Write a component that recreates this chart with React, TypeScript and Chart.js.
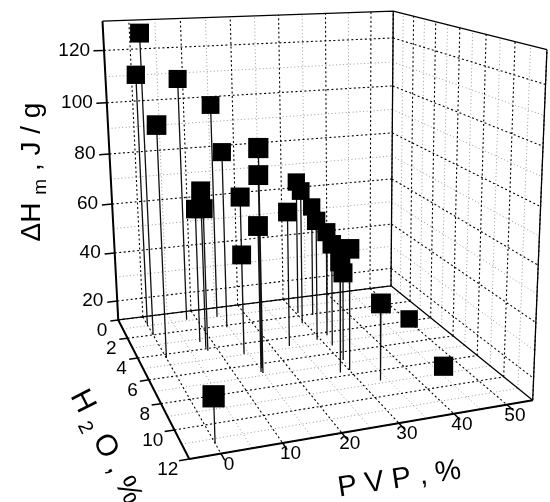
import React, { useEffect, useRef } from "react";
import { Chart, registerables } from "chart.js";

Chart.register(...registerables);

const W = 550;
const H = 502;
const FONT = '"Liberation Sans", Arial, sans-serif';

// ---- axis ranges and ticks ----
const pvpRange = [-5, 55];
const h2oRange = [0, 12];
const dHRange = [12, 131];
const pvpTicks = [0, 10, 20, 30, 40, 50];
const h2oTicks = [0, 2, 4, 6, 8, 10, 12];
const dHTicks = [20, 40, 60, 80, 100, 120];
const pvpMinor = [5, 15, 25, 35, 45];
const h2oMinor = [1, 3, 5, 7, 9, 11];
const dHMinor = [30, 50, 70, 90, 110];

// ---- data: PVP (%), H2O (%), ΔHm (J/g) ----
const pvp = [0, 0, 8, 0, 14.2, 14.6, 14.9, 15.4, 8.1, 7.7, 8.1, 14.3, 14.7, 14.1, 23.3, 30.4, 29.4, 32.9, 29.3, 31.9, 31.1, 30.1, 28.1, 30.6, 33.6, 48.8, 45.5, 0];
const h2o = [2, 0.9, 0.9, 4.35, 1, 2.2, 6.8, 6.4, 3.9, 3.3, 4.2, 4.8, 6.7, 4.95, 4.8, 1.7, 2.8, 2.1, 4.6, 4.3, 5.3, 7.6, 7.7, 6.7, 8.8, 4.6, 9, 11.3];
const dH = [128.5, 111.6, 109.2, 99.2, 98.6, 82.6, 94.1, 83.6, 72.9, 64.5, 67, 71.8, 66.3, 50.5, 64.5, 67, 66.3, 57.4, 59.4, 53.6, 52, 57.5, 53.6, 45.6, 40.7, 15.4, 14.7, 27.8];

// ---- view (layout): where the visible corners of the unit box land on the page ----
const viewCube = [[0, 0, 0], [0, 1, 0], [1, 1, 0], [1, 0, 0], [0, 0, 1], [1, 0, 1], [1, 1, 1]];
const viewPage = [[118, 320], [189, 459], [532, 400], [392, 286], [103, 21], [392, 11], [548, 50]];

function solve(A: number[][], b: number[]) {
  const n = b.length;
  const M = A.map((r, i) => [...r, b[i]]);
  for (let c = 0; c < n; c++) {
    let piv = c;
    for (let r = c + 1; r < n; r++) if (Math.abs(M[r][c]) > Math.abs(M[piv][c])) piv = r;
    [M[c], M[piv]] = [M[piv], M[c]];
    for (let r = 0; r < n; r++) {
      if (r === c) continue;
      const f = M[r][c] / M[c][c];
      for (let k = c; k <= n; k++) M[r][k] -= f * M[c][k];
    }
  }
  return M.map((r, i) => r[n] / r[i]);
}

function fitCamera() {
  const N = 11;
  const AtA = Array.from({ length: N }, () => new Array(N).fill(0));
  const Atb = new Array(N).fill(0);
  const add = (r: number[], v: number) => {
    for (let i = 0; i < N; i++) {
      Atb[i] += r[i] * v;
      for (let j = 0; j < N; j++) AtA[i][j] += r[i] * r[j];
    }
  };
  viewCube.forEach(([X, Y, Z], i) => {
    const [x, y] = viewPage[i];
    add([X, Y, Z, 1, 0, 0, 0, 0, -x * X, -x * Y, -x * Z], x);
    add([0, 0, 0, 0, X, Y, Z, 1, -y * X, -y * Y, -y * Z], y);
  });
  return solve(AtA, Atb);
}

const cam = fitCamera();

function project(p: number, h: number, z: number) {
  const u = (p - pvpRange[0]) / (pvpRange[1] - pvpRange[0]);
  const v = (h - h2oRange[0]) / (h2oRange[1] - h2oRange[0]);
  const w = (z - dHRange[0]) / (dHRange[1] - dHRange[0]);
  const d = cam[8] * u + cam[9] * v + cam[10] * w + 1;
  return {
    x: (cam[0] * u + cam[1] * v + cam[2] * w + cam[3]) / d,
    y: (cam[4] * u + cam[5] * v + cam[6] * w + cam[7]) / d,
    d,
  };
}

type P3 = [number, number, number];
function segments(list: [P3, P3][]) {
  const out: any[] = [];
  list.forEach(([a, b]) => {
    const pa = project(...a);
    const pb = project(...b);
    out.push({ x: pa.x, y: pa.y }, { x: pb.x, y: pb.y }, { x: pb.x, y: null });
  });
  return out;
}

function gridSegments(pT: number[], hT: number[], zT: number[]): [P3, P3][] {
  const [p0, p1] = pvpRange;
  const [h0, h1] = h2oRange;
  const [z0, z1] = dHRange;
  const s: [P3, P3][] = [];
  // back wall (H2O = 0)
  zT.forEach((z) => s.push([[p0, h0, z], [p1, h0, z]]));
  pT.forEach((p) => s.push([[p, h0, z0], [p, h0, z1]]));
  // right wall (PVP = max)
  zT.forEach((z) => s.push([[p1, h0, z], [p1, h1, z]]));
  hT.forEach((h) => s.push([[p1, h, z0], [p1, h, z1]]));
  // floor
  pT.forEach((p) => s.push([[p, h0, z0], [p, h1, z0]]));
  hT.forEach((h) => s.push([[p0, h, z0], [p1, h, z0]]));
  return s;
}

function lineDs(data: any[], color: string, width: number, dash: number[], order: number) {
  return {
    data,
    showLine: true,
    spanGaps: false,
    borderColor: color,
    borderWidth: width,
    borderDash: dash,
    pointRadius: 0,
    pointHoverRadius: 0,
    fill: false,
    tension: 0,
    order,
  };
}

function drawRich(ctx: CanvasRenderingContext2D, cx: number, cy: number, angle: number, pieces: { t: string; s: number; dy?: number }[], main: number) {
  ctx.save();
  ctx.translate(cx, cy);
  ctx.rotate(angle);
  const widths = pieces.map((p) => {
    ctx.font = `${p.s}px ${FONT}`;
    return ctx.measureText(p.t).width;
  });
  const total = widths.reduce((a, b) => a + b, 0);
  let x = -total / 2;
  ctx.textAlign = "left";
  ctx.textBaseline = "alphabetic";
  pieces.forEach((p, i) => {
    ctx.font = `${p.s}px ${FONT}`;
    ctx.fillText(p.t, x, main * 0.36 + (p.dy || 0));
    x += widths[i];
  });
  ctx.restore();
}

const labelsPlugin = {
  id: "axisLabels",
  afterDatasetsDraw(chart: any) {
    const ctx: CanvasRenderingContext2D = chart.ctx;
    const sx = chart.scales.x;
    const sy = chart.scales.y;
    const at = (p: number, h: number, z: number) => {
      const q = project(p, h, z);
      return { X: sx.getPixelForValue(q.x), Y: sy.getPixelForValue(q.y) };
    };
    ctx.save();
    ctx.fillStyle = "#000";
    ctx.font = `19px ${FONT}`;
    ctx.textBaseline = "middle";
    // ΔH tick labels
    ctx.textAlign = "right";
    dHTicks.forEach((z) => {
      const { X, Y } = at(pvpRange[0], h2oRange[0], z);
      ctx.fillText(String(z), X - 14, Y);
    });
    // H2O tick labels
    h2oTicks.forEach((h) => {
      const { X, Y } = at(pvpRange[0], h, dHRange[0]);
      ctx.fillText(String(h), X - 11, Y + 11);
    });
    // PVP tick labels
    ctx.textAlign = "center";
    pvpTicks.forEach((p) => {
      const { X, Y } = at(p, h2oRange[1], dHRange[0]);
      ctx.fillText(String(p), X + 8, Y + 11);
    });
    ctx.restore();

    ctx.save();
    ctx.fillStyle = "#000";
    drawRich(ctx, 30, 172, -Math.PI / 2, [
      { t: "ΔH", s: 28 },
      { t: " ", s: 28 },
      { t: "m", s: 19, dy: 6 },
      { t: " , J / g", s: 28 },
    ], 28);
    drawRich(ctx, 108, 446, (63 * Math.PI) / 180, [
      { t: "H", s: 30 },
      { t: " ", s: 30 },
      { t: "2", s: 20, dy: 7 },
      { t: " ", s: 30 },
      { t: "O", s: 30 },
      { t: " , %", s: 30 },
    ], 30);
    drawRich(ctx, 399, 477, (-8.5 * Math.PI) / 180, [{ t: "P V P , %", s: 29 }], 29);
    ctx.restore();
  },
};

export default function App() {
  const ref = useRef<HTMLCanvasElement | null>(null);
  useEffect(() => {
    if (!ref.current) return;
    const [p0, p1] = pvpRange;
    const [h0, h1] = h2oRange;
    const [z0, z1] = dHRange;

    const minorGrid = segments(gridSegments(pvpMinor, h2oMinor, dHMinor));
    const majorGrid = segments(gridSegments(pvpTicks, h2oTicks, dHTicks));
    const thinEdges = segments([
      [[p0, h0, z0], [p1, h0, z0]],
      [[p1, h0, z0], [p1, h1, z0]],
      [[p0, h0, z1], [p1, h0, z1]],
      [[p1, h0, z0], [p1, h0, z1]],
      [[p1, h0, z1], [p1, h1, z1]],
      [[p1, h1, z0], [p1, h1, z1]],
    ]);
    const axes = segments([
      [[p0, h0, z0], [p0, h1, z0]],
      [[p0, h1, z0], [p1, h1, z0]],
      [[p0, h0, z0], [p0, h0, z1]],
    ]);
    const ticks = segments([
      ...dHTicks.map((z) => [[p0, h0, z], [p0 - 2, h0, z]] as [P3, P3]),
      ...h2oTicks.map((h) => [[p0, h, z0], [p0 - 1.6, h, z0]] as [P3, P3]),
      ...pvpTicks.map((p) => [[p, h1, z0], [p, h1 + 0.45, z0]] as [P3, P3]),
    ]);
    const stems = segments(pvp.map((p, i) => [[p, h2o[i], dH[i]], [p, h2o[i], z0]] as [P3, P3]));

    const pts = pvp.map((p, i) => project(p, h2o[i], dH[i]));
    const order = pts.map((_, i) => i).sort((a, b) => pts[b].d - pts[a].d);
    const dMean = pts.reduce((s, q) => s + q.d, 0) / pts.length;
    const markers = order.map((i) => ({ x: pts[i].x, y: pts[i].y }));
    const radii = order.map((i) => (13.3 * dMean) / pts[i].d);

    const chart = new Chart(ref.current, {
      type: "scatter",
      data: {
        datasets: [
          {
            data: markers,
            pointStyle: "rect",
            pointRadius: radii,
            pointHoverRadius: radii,
            backgroundColor: "#000",
            borderColor: "#000",
            borderWidth: 0,
            showLine: false,
            order: 0,
          } as any,
          lineDs(stems, "#111", 1.3, [], 1),
          lineDs(axes, "#000", 2, [], 2),
          lineDs(ticks, "#000", 1.5, [], 3),
          lineDs(thinEdges, "#000", 1.3, [], 4),
          lineDs(majorGrid, "#000", 1.1, [2, 2.5], 5),
          lineDs(minorGrid, "#9a9a9a", 1, [1, 2.5], 6),
        ],
      },
      options: {
        animation: false,
        responsive: false,
        devicePixelRatio: 1,
        events: [],
        layout: { padding: 0, autoPadding: false },
        plugins: { legend: { display: false }, tooltip: { enabled: false } },
        scales: {
          x: { type: "linear", min: 0, max: W, display: false },
          y: { type: "linear", min: 0, max: H, reverse: true, display: false },
        },
      },
      plugins: [labelsPlugin],
    });
    return () => chart.destroy();
  }, []);
  return (
    <div style={{ position: "absolute", left: 0, top: 0, width: W, height: H, background: "#fff" }}>
      <canvas ref={ref} width={W} height={H} style={{ display: "block" }} />
    </div>
  );
}
